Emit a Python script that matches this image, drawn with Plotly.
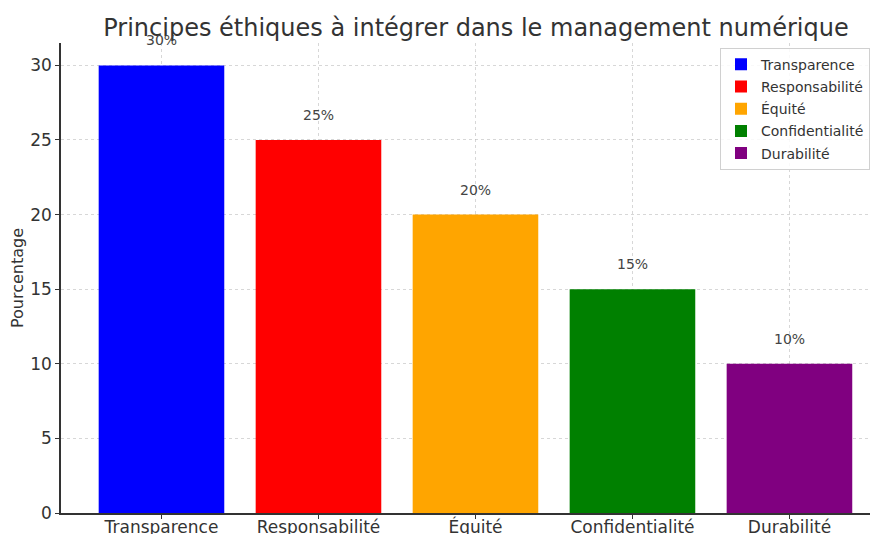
import plotly.graph_objects as go

# data
principes = ['Transparence', 'Responsabilité', 'Équité', 'Confidentialité', 'Durabilité']
pourcentages = [30, 25, 20, 15, 10]
couleurs = ['blue', 'red', 'orange', 'green', 'purple']
y_ticks = [0, 5, 10, 15, 20, 25, 30]

FONT = 'DejaVu Sans'
GRID = 'rgba(176,176,176,0.5)'

# page body adds an 8px margin, so the figure is 8px smaller than the window
W, H = 870, 526

fig = go.Figure()

for i, (nom, val, col) in enumerate(zip(principes, pourcentages, couleurs)):
    fig.add_trace(
        go.Bar(
            x=[i],
            y=[val],
            name=nom,
            legendgroup=nom,
            width=0.8,
            marker=dict(color=col, line=dict(width=0)),
            hoverinfo='x+y'
        )
    )
    # value label above each bar
    fig.add_annotation(
        x=i, y=val + 1,
        text=f'{val}%',
        showarrow=False,
        yanchor='bottom',
        font=dict(family=FONT, size=14, color='#444444')
    )

fig.update_layout(
    width=W,
    height=H,
    barmode='overlay',
    margin=dict(l=53, r=0, t=35, b=21),
    paper_bgcolor='white',
    plot_bgcolor='white',
    font=dict(family=FONT, color='#333333'),
    title=dict(
        text='Principes éthiques à intégrer dans le management numérique',
        x=468 / W,
        xanchor='center',
        y=1 - 20 / H,
        yanchor='middle',
        font=dict(family=FONT, size=24, color='#333333')
    ),
    legend=dict(
        x=(712 - 53) / (W - 53),
        xanchor='left',
        y=0.99,
        yanchor='top',
        bgcolor='rgba(255,255,255,0.85)',
        bordercolor='#d0d0d0',
        borderwidth=1,
        font=dict(family=FONT, size=14, color='#333333'),
        tracegroupgap=1
    ),
    showlegend=True
)

fig.update_xaxes(
    range=[-0.64, 4.564],
    tickmode='array',
    tickvals=list(range(len(principes))),
    ticktext=principes,
    tickfont=dict(family=FONT, size=17, color='#333333'),
    ticks='outside',
    ticklen=4,
    tickcolor='#333333',
    ticklabelstandoff=-6,
    showline=True,
    linecolor='#333333',
    linewidth=1.5,
    showgrid=True,
    gridcolor=GRID,
    griddash='3px,3px',
    gridwidth=1,
    layer='above traces',
    zeroline=False,
    automargin=False
)

fig.update_yaxes(
    range=[0, 31.5],
    tickmode='array',
    tickvals=y_ticks,
    tickfont=dict(family=FONT, size=17, color='#333333'),
    ticks='outside',
    ticklen=4,
    tickcolor='#333333',
    showline=True,
    linecolor='#333333',
    linewidth=1.5,
    showgrid=True,
    gridcolor=GRID,
    griddash='3px,3px',
    gridwidth=1,
    layer='above traces',
    zeroline=False,
    automargin=False,
    title=dict(text='Pourcentage', font=dict(family=FONT, size=16, color='#333333'), standoff=6)
)

fig.write_html('out.html')
